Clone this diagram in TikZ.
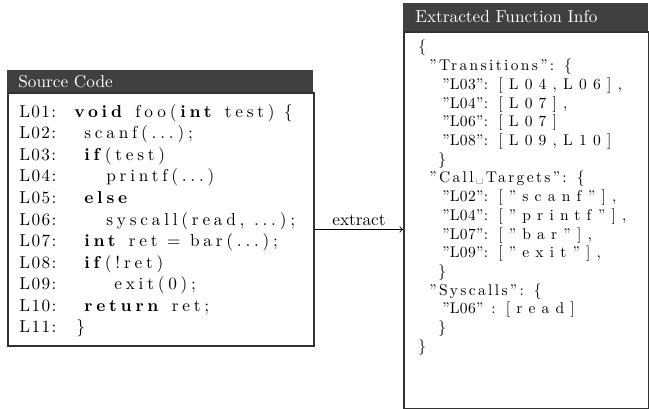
\documentclass[tikz,border=0pt]{standalone}
\usepackage{fontspec}
\newfontfamily\codefont{lmroman10-regular.otf}[LetterSpace=22, BoldFont=lmroman10-bold.otf]
\newfontfamily\numfont{lmroman10-regular.otf}[LetterSpace=8]
\newfontfamily\jsonfont{lmroman10-regular.otf}[LetterSpace=15]
\newfontfamily\jkeyfont{lmroman10-regular.otf}[LetterSpace=2]
\newfontfamily\jvalfont{lmroman10-regular.otf}[LetterSpace=40]
\newlength{\pxu}
\setlength{\pxu}{0.58pt}
\newcommand{\ind}[1]{\hspace*{#1\pxu}}
\newcommand{\lnum}[1]{\makebox[55\pxu][l]{\numfont #1:}}
\newcommand{\jkey}[1]{\makebox[56\pxu][l]{\jkeyfont #1}}
\newcommand{\jval}[1]{{\jvalfont #1}}
\definecolor{headgray}{HTML}{404040}
\definecolor{framegray}{HTML}{333333}
\begin{document}
\begin{tikzpicture}[x=0.58pt, y=-0.58pt]
    \tikzstyle{box_body}  = [shape = rectangle, draw = framegray, line width=1.1pt, inner sep=0pt]
    \tikzstyle{box_head}  = [shape = rectangle, fill = headgray, inner sep=0pt]
    \tikzstyle{box_title} = [anchor = west, text = white, inner sep=0pt]
    \tikzstyle{code_text} = [anchor = north west, inner sep=0pt, align=left,
                             font=\codefont\fontsize{10}{12.5}\selectfont]

    \useasboundingbox (0,0) rectangle (649,409);

    % left box: the code
    \node[box_body, anchor=north west, minimum width=306\pxu, minimum height=253\pxu] at (7, 92) (src_box) {};
    \node[box_head, anchor=south west, minimum width=306\pxu, minimum height=22\pxu] at (7, 92) (src_head) {};
    \node[box_title] at (18, 81.5) (src_title) {Source Code};

    \node[code_text] at (19, 104) (src_code) {%
      \lnum{L01}\textbf{void} foo(\textbf{int} test) \{\\
      \lnum{L02}\ind{10}scanf(...);\\
      \lnum{L03}\ind{10}\textbf{if}(test)\\
      \lnum{L04}\ind{32}printf(...)\\
      \lnum{L05}\ind{10}\textbf{else}\\
      \lnum{L06}\ind{32}syscall(read, ...);\\
      \lnum{L07}\ind{10}\textbf{int} ret = bar(...);\\
      \lnum{L08}\ind{10}\textbf{if}(!ret)\\
      \lnum{L09}\ind{40}exit(0);\\
      \lnum{L10}\ind{10}\textbf{return} ret;\\
      \lnum{L11}\ind{2}\}};

    % right box: the result
    \node[box_body, anchor=north west, minimum width=245\pxu, minimum height=377\pxu] at (403, 31) (info_box) {};
    \node[box_head, anchor=south west, minimum width=245\pxu, minimum height=28\pxu] at (403, 31) (info_head) {};
    \node[box_title] at (415, 17) (info_title) {Extracted Function Info};

    \node[code_text, font=\jsonfont\fontsize{9}{10.85}\selectfont] at (418, 40) (info_code) {%
      \{\\
      \ind{11}”Transitions”: \{\\
      \ind{24}\jkey{”L03”:}\jval{[L04,L06],}\\
      \ind{24}\jkey{”L04”:}\jval{[L07],}\\
      \ind{24}\jkey{”L06”:}\jval{[L07]}\\
      \ind{24}\jkey{”L08”:}\jval{[L09,L10]}\\
      \ind{20}\}\\
      \ind{11}”Call\textvisiblespace Targets”: \{\\
      \ind{24}\jkey{”L02”:}\jval{[”scanf”],}\\
      \ind{24}\jkey{”L04”:}\jval{[”printf”],}\\
      \ind{24}\jkey{”L07”:}\jval{[”bar”],}\\
      \ind{24}\jkey{”L09”:}\jval{[”exit”],}\\
      \ind{20}\}\\
      \ind{11}”Syscalls”: \{\\
      \ind{24}{\jkeyfont ”L06”}\ind{8}:\ind{10}\jval{[read]}\\
      \ind{20}\}\\
      \}};

    \draw[->, line width=0.5pt]
      ([yshift=-10\pxu]src_box.east) -- ([yshift=-10\pxu]src_box.east -| info_box.west)
        node[midway, above, inner sep=2pt] (extract_lbl) {extract};
  \end{tikzpicture}
\end{document}
